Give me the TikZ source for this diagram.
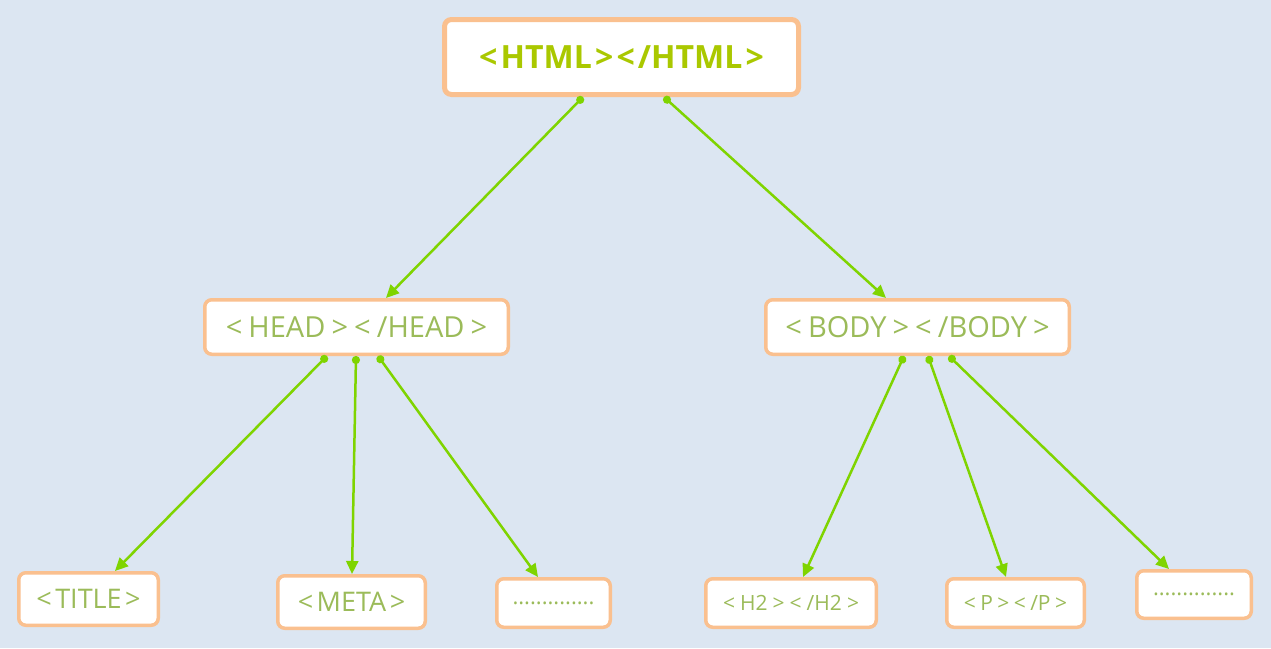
\documentclass[tikz,border=0pt]{standalone}
\usepackage{fontspec}
\setmainfont{Open Sans}
\usetikzlibrary{arrows.meta}
\definecolor{bg}{RGB}{220,230,242}
\definecolor{bord}{RGB}{250,192,143}
\definecolor{txt}{RGB}{155,187,89}
\definecolor{boldtxt}{RGB}{170,200,0}
\definecolor{lnk}{RGB}{127,212,0}
\newcommand{\bk}{0.3em}
\newcommand{\tagl}{<\kern\bk}
\newcommand{\tagr}{\kern\bk>}
\newcommand{\tagsep}{\kern\bk}
\tikzset{
  box/.style={draw=bord, fill=white, rounded corners=7pt, line width=3.5pt, inner sep=0pt, text=txt},
  bigbox/.style={box, line width=5pt, text=boldtxt},
  link/.style={draw=lnk, line width=2.5pt, {Circle[length=8pt]}-{Triangle[length=13pt,width=12pt]}},
}
\begin{document}
\begin{tikzpicture}[x=1pt,y=-1pt]
\fill[bg] (0,0) rectangle (1271,648);
\useasboundingbox (0,0) rectangle (1271,648);
\node[bigbox, minimum width=354pt, minimum height=75pt, font=\fontsize{32}{36}\selectfont\bfseries] (html) at (621.5,57) {\renewcommand{\bk}{0.1em}\tagl HTML\tagr\tagsep\tagl/HTML\tagr};
\node[box, minimum width=303.5pt, minimum height=54.5pt, font=\fontsize{29}{32}\selectfont] (head) at (356.5,327) {\renewcommand{\bk}{0.21em}\tagl HEAD\tagr\tagsep\tagl/HEAD\tagr};
\node[box, minimum width=303.5pt, minimum height=54.5pt, font=\fontsize{29}{32}\selectfont] (body) at (917.5,327) {\renewcommand{\bk}{0.21em}\tagl BODY\tagr\tagsep\tagl/BODY\tagr};
\node[box, minimum width=139.5pt, minimum height=52.5pt, font=\fontsize{27}{30}\selectfont] (title) at (88.5,599) {\renewcommand{\bk}{0.13em}\tagl TITLE\tagr};
\node[box, minimum width=147.5pt, minimum height=52.5pt, font=\fontsize{27}{30}\selectfont] (meta) at (351.5,602) {\renewcommand{\bk}{0.13em}\tagl META\tagr};
\node[box, minimum width=113.5pt, minimum height=48.5pt, font=\fontsize{22}{26}\selectfont] (dotsa) at (553.5,603) {..............};
\node[box, minimum width=170.5pt, minimum height=48.5pt, font=\fontsize{21}{24}\selectfont] (htwo) at (791,603) {\renewcommand{\bk}{0.24em}\tagl H2\tagr\tagsep\tagl/H2\tagr};
\node[box, minimum width=137.5pt, minimum height=48.5pt, font=\fontsize{21}{24}\selectfont] (para) at (1015.5,603) {\renewcommand{\bk}{0.21em}\tagl P\tagr\tagsep\tagl/P\tagr};
\node[box, minimum width=114.5pt, minimum height=47.5pt, font=\fontsize{22}{26}\selectfont] (dotsb) at (1194,594.5) {..............};
\draw[link] ([xshift=-38.5pt]html.south) -- ([xshift=29.5pt]head.north);
\draw[link] ([xshift=42.5pt]html.south) -- ([xshift=-31.5pt]body.north);
\draw[link] ([xshift=-29.5pt]head.south) -- ([xshift=26.5pt]title.north);
\draw[link] ([xshift=-0.5pt]head.south) -- ([xshift=0.5pt]meta.north);
\draw[link] ([xshift=21.5pt]head.south) -- ([xshift=-15.5pt]dotsa.north);
\draw[link] ([xshift=-13.5pt]body.south) -- ([xshift=12pt]htwo.north);
\draw[link] ([xshift=10.5pt]body.south) -- ([xshift=-9.5pt]para.north);
\draw[link] ([xshift=31.5pt]body.south) -- ([xshift=-25pt]dotsb.north);
\end{tikzpicture}
\end{document}
